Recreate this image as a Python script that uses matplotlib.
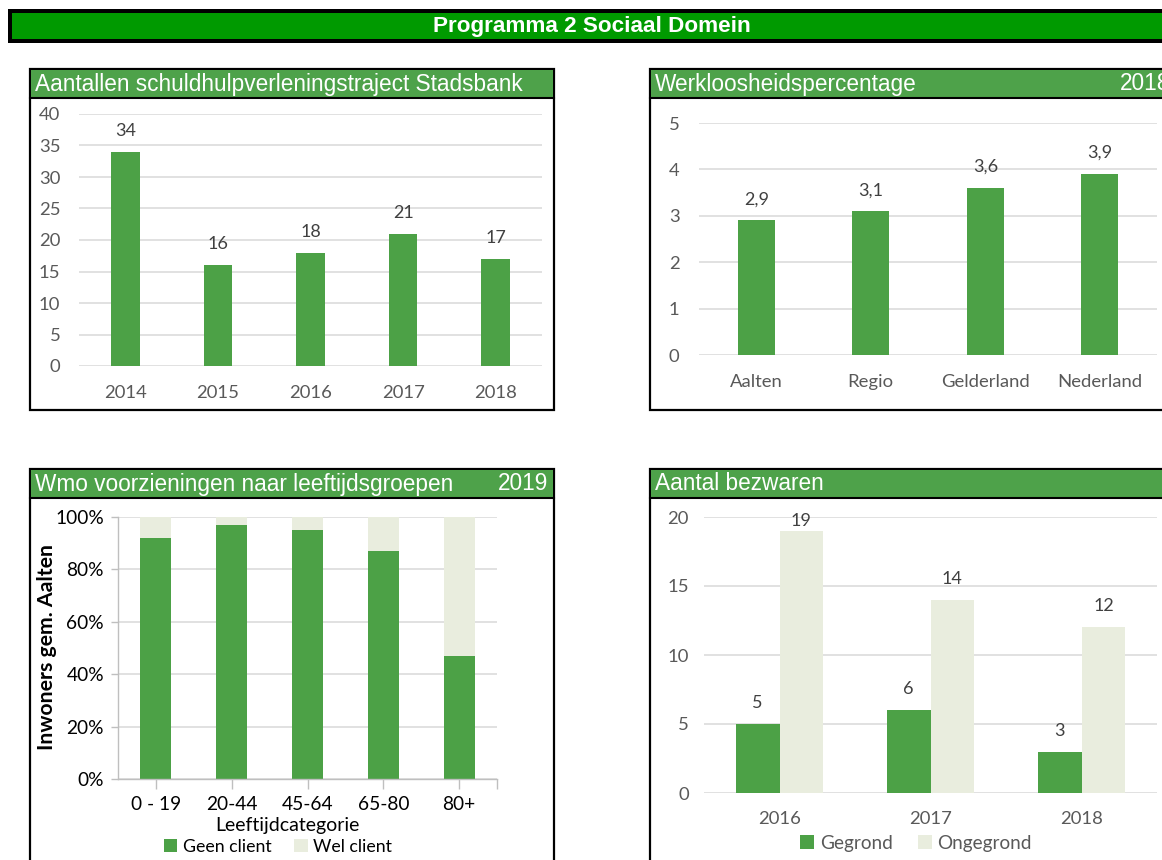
import matplotlib
matplotlib.use("Agg")
import matplotlib.pyplot as plt
from matplotlib.patches import Rectangle
from matplotlib.lines import Line2D
import numpy as np

# ---------------- data ----------------
years_traject = ["2014", "2015", "2016", "2017", "2018"]
traject = [34, 16, 18, 21, 17]

regions = ["Aalten", "Regio", "Gelderland", "Nederland"]
werkloos = [2.9, 3.1, 3.6, 3.9]

age_groups = ["0 - 19", "20-44", "45-64", "65-80", "80+"]
geen_client = [92, 97, 95, 87, 47]
wel_client = [8, 3, 5, 13, 53]

years_bezwaar = ["2016", "2017", "2018"]
gegrond = [5, 6, 3]
ongegrond = [19, 14, 12]

# ---------------- style ----------------
W, H = 1162, 860
GREEN = "#4CA146"
HEAD = "#4EA24A"
BANNER = "#009A00"
LIGHT = "#E9EDDE"
GRID = "#D9D9D9"
TICK = "#595959"
LAB = "#404040"
TFONT = "Lato"
HFONT = "Liberation Sans"
FS = 13.3

fig = plt.figure(figsize=(W / 100, H / 100), dpi=100)
fig.patch.set_facecolor("white")


def rect(x0, y0, x1, y1, fc, ec="none", lw=0, z=-5):
    fig.add_artist(Rectangle((x0 / W, 1 - y1 / H), (x1 - x0) / W, (y1 - y0) / H,
                             transform=fig.transFigure, facecolor=fc,
                             edgecolor=ec, linewidth=lw, zorder=z))


def hline(x0, x1, y, lw=1.5, color="black"):
    fig.add_artist(Line2D([x0 / W, x1 / W], [1 - y / H, 1 - y / H],
                          transform=fig.transFigure, color=color, lw=lw, zorder=-3))


def ftext(x, y, s, **kw):
    fig.text(x / W, 1 - y / H, s, **kw)


def ax_at(x0, y0, x1, y1):
    ax = fig.add_axes([x0 / W, 1 - y1 / H, (x1 - x0) / W, (y1 - y0) / H])
    ax.set_facecolor("none")
    return ax


def panel(x0, y0, x1, y1, title, year=None, year_x=None, year_ha="right"):
    rect(x0, y0, x1, y1, "white", "black", 1.6, z=-6)
    rect(x0 + 1, y0 + 1, x1 - 1, y0 + 29, HEAD, z=-4)
    hline(x0, x1, y0 + 29)
    ftext(x0 + 5, y0 + 15, title, color="white", family=HFONT, fontsize=16.3,
          va="center", ha="left")
    if year is not None:
        ftext(year_x, y0 + 15, year, color="white", family=HFONT, fontsize=16.3,
              va="center", ha=year_ha)


def style_axes(ax, ypad, xpad, tickcolor=TICK, fs=FS):
    for s in ax.spines.values():
        s.set_visible(False)
    ax.grid(axis="y", color=GRID, lw=1.1)
    ax.set_axisbelow(True)
    ax.tick_params(axis="both", length=0, labelsize=fs, colors=tickcolor)
    ax.tick_params(axis="y", pad=ypad)
    ax.tick_params(axis="x", pad=xpad)
    for lab in ax.get_xticklabels() + ax.get_yticklabels():
        lab.set_family(TFONT)


def value_labels(ax, xs, vals, fmt, ymax, pix_per_unit, off_px=21, top_px=4.5):
    for x, v in zip(xs, vals):
        off = min(off_px, (ymax - v) * pix_per_unit - top_px)
        yl = v + off / pix_per_unit
        ax.text(x, yl, fmt(v), ha="center", va="center", fontsize=13,
                color=LAB, family=TFONT)


# ---------------- banner ----------------
rect(8, 9, 1175, 43, "black", z=-8)
rect(12, 13, 1175, 39, BANNER, z=-7)
ftext(592, 26.5, "Programma 2 Sociaal Domein", color="white", family=HFONT,
      fontsize=16.2, fontweight="bold", ha="center", va="center")

# ---------------- panel 1 ----------------
panel(30, 69, 554, 410, "Aantallen schuldhulpverleningstraject Stadsbank")
ax1 = ax_at(79, 114, 542, 366)
x1 = np.arange(len(years_traject))
ax1.bar(x1, traject, width=0.31, color=GREEN, zorder=2)
ax1.set_xlim(-0.5, len(years_traject) - 0.5)
ax1.set_ylim(0, 40)
ax1.set_yticks(np.arange(0, 41, 5))
ax1.set_xticks(x1)
ax1.set_xticklabels(years_traject)
style_axes(ax1, ypad=13.5, xpad=14)
value_labels(ax1, x1, traject, lambda v: f"{v}", 40, 252 / 40)

# ---------------- panel 2 ----------------
panel(650, 69, 1180, 410, "Werkloosheidspercentage", "2018", 1120, "left")
ax2 = ax_at(699, 123, 1157, 355)
x2 = np.arange(len(regions))
ax2.bar(x2, werkloos, width=0.32, color=GREEN, zorder=2)
ax2.set_xlim(-0.5, len(regions) - 0.5)
ax2.set_ylim(0, 5)
ax2.set_yticks(np.arange(0, 6, 1))
ax2.set_xticks(x2)
ax2.set_xticklabels(regions)
style_axes(ax2, ypad=14, xpad=14)
value_labels(ax2, x2, werkloos, lambda v: f"{v:.1f}".replace(".", ","), 5, 232 / 5)

# ---------------- panel 3 ----------------
panel(30, 469, 554, 900, "Wmo voorzieningen naar leeftijdsgroepen", "2019", 548, "right")
ax3 = ax_at(118, 517, 497, 779)
x3 = np.arange(len(age_groups))
ax3.bar(x3, geen_client, width=0.41, color=GREEN, zorder=2, label="Geen client")
ax3.bar(x3, wel_client, width=0.41, bottom=geen_client, color=LIGHT, zorder=2,
        label="Wel client")
ax3.set_xlim(-0.5, len(age_groups) - 0.5)
ax3.set_ylim(0, 100)
ax3.set_yticks(np.arange(0, 101, 20))
ax3.set_yticklabels([f"{v}%" for v in range(0, 101, 20)])
ax3.set_xticks(x3)
ax3.set_xticklabels(age_groups)
style_axes(ax3, ypad=5, xpad=5, tickcolor="black", fs=13.8)
for side in ("left", "bottom"):
    ax3.spines[side].set_visible(True)
    ax3.spines[side].set_color("#BFBFBF")
    ax3.spines[side].set_linewidth(1.0)
ax3.tick_params(axis="y", length=5, color="#BFBFBF", width=1.0)
ax3.tick_params(axis="x", length=7, color="#BFBFBF", width=1.0)
ax3.set_xticks([len(age_groups) - 0.5], minor=True)
ax3.tick_params(axis="x", which="minor", length=7, color="#BFBFBF", width=1.0)
ftext(287, 825, "Leeftijdcategorie", fontsize=14, family=TFONT, color="black",
      ha="center", va="center")
ftext(47, 647, "Inwoners gem. Aalten", fontsize=15.3, family=TFONT, fontweight="bold",
      color="black", ha="center", va="center", rotation=90)
h3, l3 = ax3.get_legend_handles_labels()
leg3 = fig.legend(h3, l3, loc="center", bbox_to_anchor=(278 / W, 1 - 847 / H),
                  ncol=2, frameon=False, handlelength=0.75,
                  handleheight=0.75, handletextpad=0.3, columnspacing=1.3,
                  borderpad=0, prop={"family": TFONT, "size": 12.8})

# ---------------- panel 4 ----------------
panel(650, 469, 1180, 900, "Aantal bezwaren")
ax4 = ax_at(704, 517, 1157, 793)
x4 = np.arange(len(years_bezwaar))
bw = 0.29
ax4.bar(x4 - bw / 2, gegrond, width=bw, color=GREEN, zorder=2, label="Gegrond")
ax4.bar(x4 + bw / 2, ongegrond, width=bw, color=LIGHT, zorder=2, label="Ongegrond")
ax4.set_xlim(-0.5, len(years_bezwaar) - 0.5)
ax4.set_ylim(0, 20)
ax4.set_yticks(np.arange(0, 21, 5))
ax4.set_xticks(x4)
ax4.set_xticklabels(years_bezwaar)
style_axes(ax4, ypad=11, xpad=13)
value_labels(ax4, x4 - bw / 2, gegrond, lambda v: f"{v}", 20, 276 / 20)
value_labels(ax4, x4 + bw / 2, ongegrond, lambda v: f"{v}", 20, 276 / 20)
h4, l4 = ax4.get_legend_handles_labels()
leg4 = fig.legend(h4, l4, loc="center", bbox_to_anchor=(916 / W, 1 - 843 / H),
                  ncol=2, frameon=False, handlelength=0.75,
                  handleheight=0.75, handletextpad=0.3, columnspacing=1.3,
                  borderpad=0, prop={"family": TFONT, "size": 13.7})
for t in leg4.get_texts():
    t.set_color(TICK)

fig.savefig("out.png", dpi=100, facecolor="white")
